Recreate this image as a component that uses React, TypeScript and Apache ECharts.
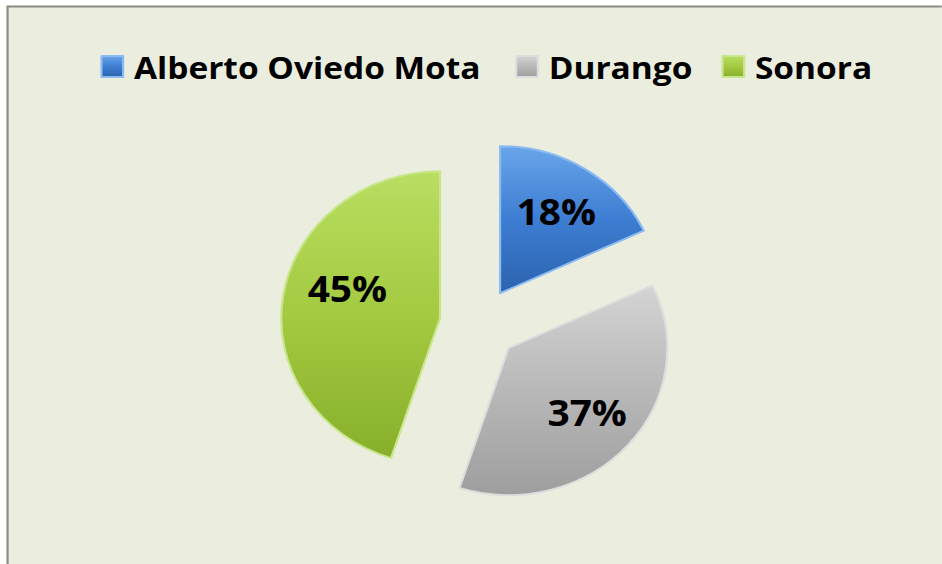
import React, { useEffect, useRef } from "react";
import * as echarts from "echarts";

const categories = ["Alberto Oviedo Mota", "Durango", "Sonora"];
const values = [18, 37, 45];
const labels = ["18%", "37%", "45%"];
const legendLefts = [88, 472, 663];
// label nudges: left padding and height of an empty line under the label
const labelPadLeft = [0, 0, 20];
const labelLiftLine = [0, 0, 30];

const gradients = [
  ["#69A5EA", "#3D7DD2", "#2B63AE"],
  ["#D4D4D4", "#B8B8B8", "#9E9E9E"],
  ["#B9DE62", "#A3CA40", "#88AF2A"],
];
const borders = ["#8CBBF2", "#DDDDDD", "#C8E68C"];

const STRETCH = 1.08;
const W = Math.round(942 / STRETCH);

export default function App() {
  const ref = useRef<HTMLDivElement>(null);
  useEffect(() => {
    if (!ref.current) return;
    const chart = echarts.init(ref.current, undefined, { renderer: "svg" });
    const center = [443.5, 324];
    const R = 147;
    const mainData = categories.map((name, i) => ({
      name,
      value: values[i],
      selected: true,
      itemStyle: {
        color: new echarts.graphic.LinearGradient(0, 0, 0, 1, [
          { offset: 0, color: gradients[i][0] },
          { offset: 0.5, color: gradients[i][1] },
          { offset: 1, color: gradients[i][2] },
        ]),
        borderColor: borders[i],
        borderWidth: 2,
      },
    }));
    const labelData = categories.map((name, i) => ({
      name,
      value: values[i],
      selected: true,
      label: {
        formatter: labelLiftLine[i] > 0 ? `{v|${labels[i]}}\n{s|}` : `{v|${labels[i]}}`,
        padding: [0, 0, 0, labelPadLeft[i]],
        rich: {
          v: {
            fontFamily: "Open Sans",
            fontWeight: "bold",
            fontSize: 36,
            color: "#000",
            lineHeight: 44,
          },
          s: { fontSize: 1, lineHeight: labelLiftLine[i] || 1 },
        },
      },
    }));
    chart.setOption({
      animation: false,
      backgroundColor: "#ffffff",
      graphic: [
        {
          type: "rect",
          shape: { x: 7, y: 6.5, width: 1000, height: 1000 },
          style: { fill: "#EBEEDE", stroke: "#878C84", lineWidth: 2 },
          z: -10,
          silent: true,
        },
      ],
      legend: categories.map((name, i) => ({
        data: [name],
        left: legendLefts[i],
        top: 46,
        icon: "rect",
        itemWidth: 20,
        itemHeight: 21,
        selectedMode: false,
        textStyle: {
          fontFamily: "Open Sans",
          fontWeight: "bold",
          fontSize: 31,
          color: "#000",
          padding: [0, 0, 0, 5],
        },
      })),
      series: [
        {
          type: "pie",
          center,
          radius: [0, R],
          startAngle: 90,
          clockwise: true,
          selectedMode: "multiple",
          selectedOffset: 36.5,
          label: { show: false },
          labelLine: { show: false },
          emphasis: { disabled: true },
          data: mainData,
        },
        {
          type: "pie",
          center,
          radius: [41, R],
          startAngle: 90,
          clockwise: true,
          selectedMode: "multiple",
          selectedOffset: 36.5,
          silent: true,
          itemStyle: { color: "rgba(0,0,0,0)", borderWidth: 0 },
          label: {
            show: true,
            position: "inside",
            fontFamily: "Open Sans",
            fontWeight: "bold",
            fontSize: 36,
            color: "#000",
          },
          labelLine: { show: false },
          emphasis: { disabled: true },
          data: labelData,
          z: 5,
        },
      ],
    });
    return () => chart.dispose();
  }, []);
  return (
    <div
      ref={ref}
      style={{
        position: "fixed",
        left: 0,
        top: 0,
        width: W,
        height: 564,
        transform: `scaleX(${STRETCH})`,
        transformOrigin: "0 0",
      }}
    />
  );
}
